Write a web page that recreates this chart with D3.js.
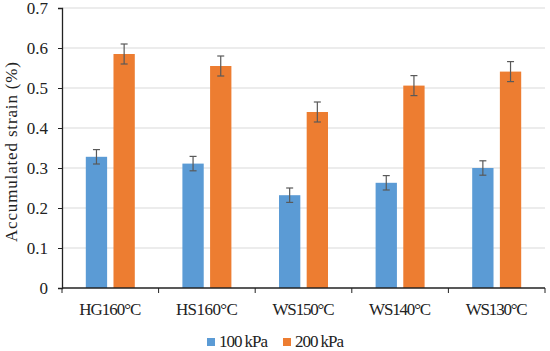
<!DOCTYPE html>
<html lang="en">
<head>
<meta charset="UTF-8">
<title>Accumulated strain</title>
<script src="https://d3js.org/d3.v7.min.js"></script>
<style>
    body { margin: 0; background: #fff; }
    svg text { font-family: "Liberation Serif", serif; fill: #222; }
</style>
</head>
<body>
<svg id="chart" width="550" height="351"></svg>
<script>
// data
let categories = ["HG160°C", "HS160°C", "WS150°C", "WS140°C", "WS130°C"];
let seriesNames = ["100 kPa", "200 kPa"];
let strain100 = [0.328, 0.311, 0.232, 0.263, 0.300];
let strain200 = [0.585, 0.555, 0.440, 0.506, 0.541];
let err100 = [0.018, 0.018, 0.018, 0.018, 0.018];
let err200 = [0.025, 0.025, 0.025, 0.025, 0.025];
let yTicks = [0, 0.1, 0.2, 0.3, 0.4, 0.5, 0.6, 0.7];
let colors = ["#5b9bd5", "#ed7d31"];

let svg = d3.select("#chart");
let margin = {left: 62, right: 5, top: 8, bottom: 63};
let W = 550, H = 351;

let x = d3.scaleBand().domain(categories).range([margin.left, W - margin.right]);
let xs = d3.scaleBand().domain(seriesNames).range([0, x.bandwidth()]).paddingInner(0.23).paddingOuter(0.86);
let y = d3.scaleLinear().domain([0, 0.7]).range([H - margin.bottom, margin.top]);

// gridlines
svg.append("g").selectAll("line")
    .data(yTicks.slice(1))
    .join("line")
    .attr("x1", margin.left).attr("x2", W - margin.right)
    .attr("y1", d => y(d)).attr("y2", d => y(d))
    .attr("stroke", "#d9d9d9").attr("stroke-width", 1);

let rows = categories.map((c, i) => ({
    cat: c,
    vals: [
        {s: seriesNames[0], v: strain100[i], e: err100[i], k: 0},
        {s: seriesNames[1], v: strain200[i], e: err200[i], k: 1}
    ]
}));

let groups = svg.append("g").selectAll("g")
    .data(rows)
    .join("g")
    .attr("transform", d => `translate(${x(d.cat)},0)`);

groups.selectAll("rect")
    .data(d => d.vals)
    .join("rect")
    .attr("x", d => xs(d.s))
    .attr("width", xs.bandwidth())
    .attr("y", d => y(d.v))
    .attr("height", d => y(0) - y(d.v))
    .attr("fill", d => colors[d.k]);

// error bars
let eb = groups.selectAll("g.err")
    .data(d => d.vals)
    .join("g")
    .attr("class", "err")
    .attr("stroke", "#595959")
    .attr("stroke-width", 1.2);
eb.append("line")
    .attr("x1", d => xs(d.s) + xs.bandwidth() / 2)
    .attr("x2", d => xs(d.s) + xs.bandwidth() / 2)
    .attr("y1", d => y(d.v + d.e)).attr("y2", d => y(d.v - d.e));
eb.append("line")
    .attr("x1", d => xs(d.s) + xs.bandwidth() / 2 - 3.5)
    .attr("x2", d => xs(d.s) + xs.bandwidth() / 2 + 3.5)
    .attr("y1", d => y(d.v + d.e)).attr("y2", d => y(d.v + d.e));
eb.append("line")
    .attr("x1", d => xs(d.s) + xs.bandwidth() / 2 - 3.5)
    .attr("x2", d => xs(d.s) + xs.bandwidth() / 2 + 3.5)
    .attr("y1", d => y(d.v - d.e)).attr("y2", d => y(d.v - d.e));

// y axis
let yAxis = svg.append("g")
    .attr("transform", `translate(${margin.left},0)`)
    .call(d3.axisLeft(y).tickValues(yTicks).tickSize(4).tickPadding(10)
        .tickFormat(d => d === 0 ? "0" : d3.format(".1f")(d)));
yAxis.select(".domain").attr("stroke", "#222").attr("stroke-width", 1.3);
yAxis.selectAll(".tick line").attr("stroke", "#222");
yAxis.selectAll("text").style("font-size", "17px").attr("fill", "#222")
    .style("font-family", "'Liberation Serif', serif");

// x axis with ticks at category boundaries
let xAxisG = svg.append("g").attr("transform", `translate(0,${y(0)})`);
xAxisG.append("line")
    .attr("x1", margin.left).attr("x2", W - margin.right)
    .attr("stroke", "#222").attr("stroke-width", 1.3);
xAxisG.selectAll("line.tk")
    .data(categories)
    .join("line")
    .attr("class", "tk")
    .attr("x1", d => x(d) + x.bandwidth()).attr("x2", d => x(d) + x.bandwidth())
    .attr("y1", 0).attr("y2", 5)
    .attr("stroke", "#222");
xAxisG.append("line")
    .attr("x1", margin.left).attr("x2", margin.left)
    .attr("y1", 0).attr("y2", 5).attr("stroke", "#222");
xAxisG.selectAll("text")
    .data(categories)
    .join("text")
    .attr("x", d => x(d) + x.bandwidth() / 2)
    .attr("y", 27)
    .attr("text-anchor", "middle")
    .style("font-size", "17px")
    .attr("textLength", 62)
    .text(d => d);

// y title
svg.append("text")
    .attr("transform", `translate(17,${(y(0) + y(0.7)) / 2 + 4}) rotate(-90)`)
    .attr("text-anchor", "middle")
    .style("font-size", "17px")
    .attr("textLength", 180)
    .text("Accumulated strain (%)");

// legend
let leg = svg.append("g").attr("transform", "translate(207,338)");
let items = leg.selectAll("g")
    .data(seriesNames)
    .join("g")
    .attr("transform", (d, i) => `translate(${i * 76},0)`);
items.append("rect").attr("width", 8).attr("height", 8).attr("fill", (d, i) => colors[i]);
items.append("text").attr("x", 12).attr("y", 9).style("font-size", "17px")
    .attr("textLength", 49).text(d => d);
</script>
</body>
</html>
